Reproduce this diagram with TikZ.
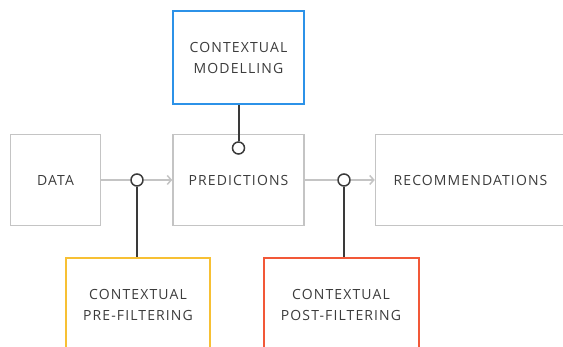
\documentclass[tikz,border=0pt]{standalone}
\usepackage{fontspec}
\usepackage{xcolor}
\usetikzlibrary{arrows.meta}
\newfontfamily\boxfont{Open Sans}[LetterSpace=8]
\definecolor{boxgray}{RGB}{196,196,196}
\definecolor{textgray}{RGB}{60,60,60}
\definecolor{linedark}{RGB}{58,58,58}
\definecolor{modelblue}{RGB}{44,146,232}
\definecolor{preyellow}{RGB}{247,192,52}
\definecolor{postred}{RGB}{242,88,56}

\begin{document}
\begin{tikzpicture}[
x=1pt, y=1pt,
node distance=183pt,
boxnode/.style={rectangle, line width=1.5pt, minimum height=91pt, text=textgray, font=\boxfont\fontsize{14}{21}\selectfont, align=center},
graynode/.style={boxnode, draw=boxgray},
colornode/.style={boxnode, line width=2pt, minimum height=93pt},
joinnode/.style={circle, draw=linedark, fill=white, line width=1.5pt, minimum size=12pt, inner sep=0pt},
grayline/.style={draw=boxgray, line width=1.5pt},
darkline/.style={draw=linedark, line width=2pt},
]
\clip (0,0) rectangle (563,347);
%Nodes
\node[graynode, minimum width=90pt]    (data)                                  at (55.5,167) {DATA};
\node[graynode, minimum width=131pt]   (pred)  [right of = data]                             {PREDICTIONS};
\node[graynode, minimum width=190pt]   (rec)   [right of = pred, node distance=232pt]       {RECOMMENDATIONS};
\node[colornode, draw=modelblue, minimum width=131pt] (model) [above of = pred, node distance=122pt] {CONTEXTUAL\\MODELLING};
\node[colornode, draw=preyellow, minimum width=144pt] (pre)                    at (138,42.5) {CONTEXTUAL\\PRE-FILTERING};
\node[colornode, draw=postred, minimum width=155pt]   (post)                   at (341,42.5) {CONTEXTUAL\\POST-FILTERING};
\node[joinnode]  (j1)  at (137,167) {};
\node[joinnode]  (j2)  at (238.5,199) {};
\node[joinnode]  (j3)  at (344,167) {};

%Lines
\draw[grayline] (data.east) -- (j1.west);
\draw[grayline, -{Straight Barb[length=4pt, width=9pt]}] (j1.east) -- (pred.west);
\draw[grayline] (pred.east) -- (j3.west);
\draw[grayline, -{Straight Barb[length=4pt, width=9pt]}] (j3.east) -- (rec.west);
\draw[darkline] (j2.north) -- (j2.north |- model.south);
\draw[darkline] (j1.south) -- (j1.south |- pre.north);
\draw[darkline] (j3.south) -- (j3.south |- post.north);

\end{tikzpicture}
\end{document}
